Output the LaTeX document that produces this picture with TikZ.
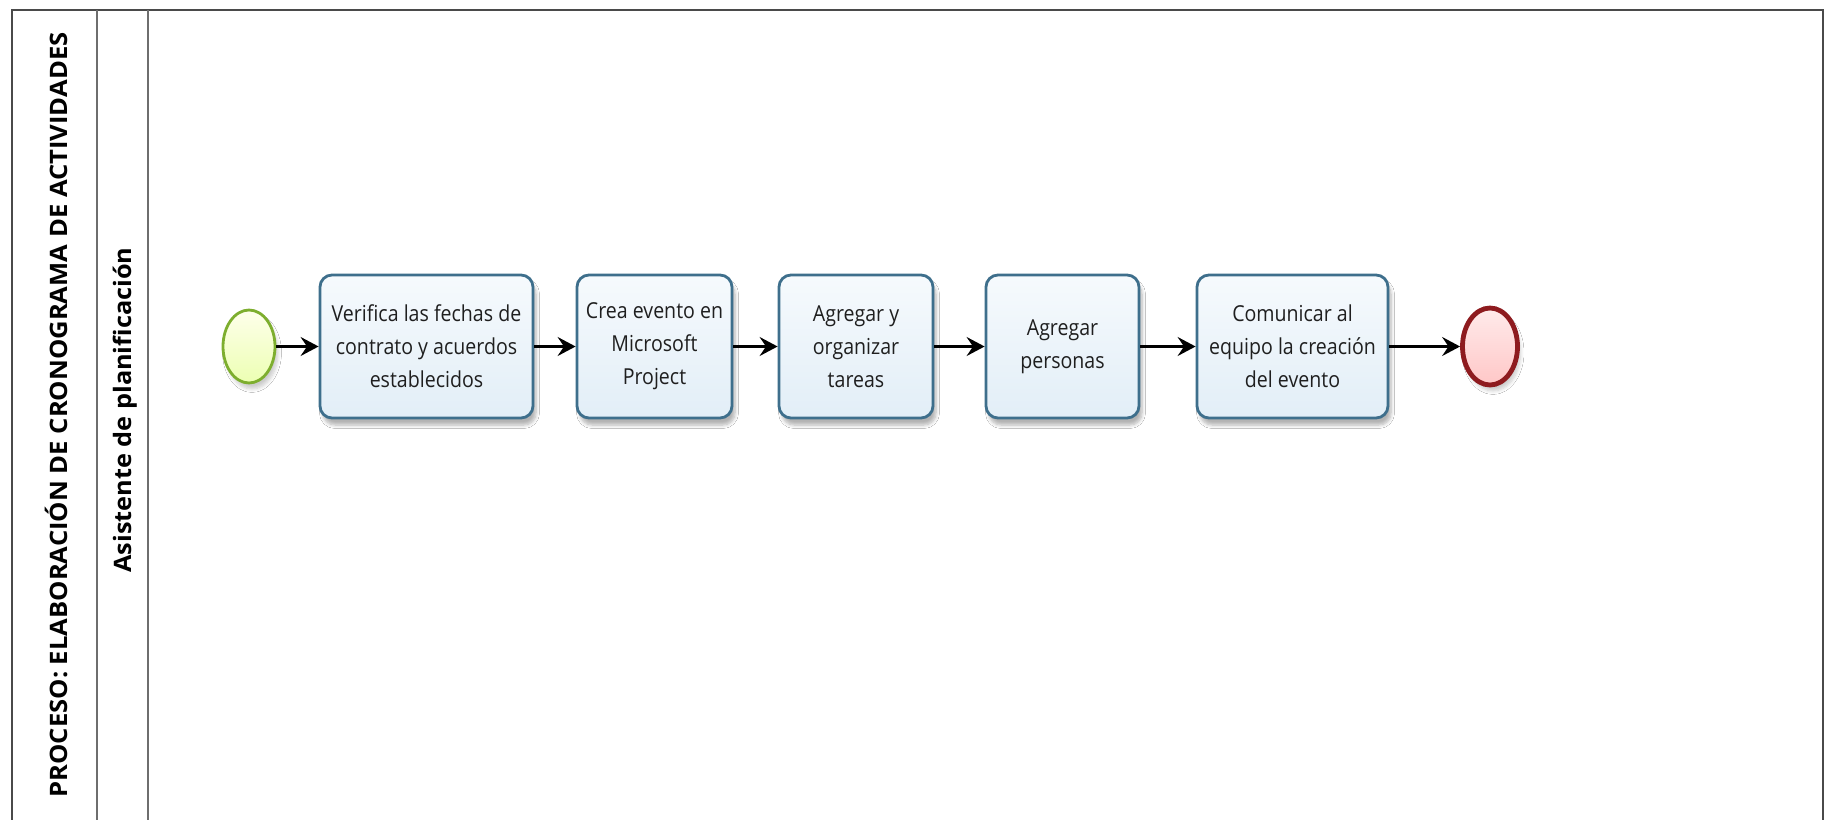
\documentclass[tikz,border=0pt]{standalone}
\usepackage{fontspec}
\usepackage{graphicx}
\usetikzlibrary{arrows.meta,shapes.geometric,shadows.blur}
\newfontfamily\taskfont{Open Sans}[FakeStretch=0.89]
\newfontfamily\headfont{Open Sans}

\definecolor{framegray}{HTML}{4A4A4A}
\definecolor{sepgray}{HTML}{6E6E6E}
\definecolor{taskborder}{HTML}{3E6F8C}
\definecolor{tasktop}{HTML}{F6FAFD}
\definecolor{taskbottom}{HTML}{E2EEF7}
\definecolor{startborder}{HTML}{7DAE2E}
\definecolor{endborder}{HTML}{8E1B1F}

\tikzset{
  frameline/.style={draw=framegray, line width=1pt},
  sepline/.style={draw=sepgray, line width=0.8pt},
  task/.style={draw=taskborder, line width=1.4pt, rounded corners=6pt,
    top color=tasktop, bottom color=taskbottom,
    minimum height=71.5pt, inner sep=2pt, align=center,
    font=\taskfont\fontsize{11}{16.5}\selectfont, text=black!88,
    blur shadow={shadow xshift=1.5pt, shadow yshift=-3.5pt, shadow blur steps=6, shadow opacity=30}},
  startev/.style={ellipse, draw=startborder, line width=1.4pt,
    top color=green!4!yellow!8, bottom color=green!25!yellow!30,
    minimum width=26pt, minimum height=36.5pt, inner sep=0pt,
    blur shadow={shadow xshift=1.5pt, shadow yshift=-3pt, shadow blur steps=6, shadow opacity=20}},
  endev/.style={ellipse, draw=endborder, line width=2.4pt,
    top color=red!8, bottom color=red!22,
    minimum width=27.5pt, minimum height=38.5pt, inner sep=0pt,
    blur shadow={shadow xshift=1.5pt, shadow yshift=-3pt, shadow blur steps=6, shadow opacity=20}},
  flow/.style={draw=black, line width=1.1pt,
    -{Stealth[length=9pt, width=9.5pt, inset=3.2pt]}},
  headtext/.style={rotate=90, inner sep=0pt, text=black,
    font=\headfont\bfseries\fontsize{12}{14}\selectfont}
}

\begin{document}
\begin{tikzpicture}[x=0.5pt, y=-0.5pt]
  \useasboundingbox (0,0) rectangle (1825,819);
  \fill[white] (0,0) rectangle (1825,819);

  % pool frame, open at the bottom
  \draw[frameline] (12,830) -- (12,10) -- (1823,10) -- (1823,830);
  % pool header and lane header separators
  \draw[sepline] (97,10) -- (97,830);
  \draw[sepline] (148,10) -- (148,830);

  % pool and lane titles
  \node[headtext] (pool) at (56,415)
    {\resizebox{382.5pt}{\height}{PROCESO: ELABORACIÓN DE CRONOGRAMA DE ACTIVIDADES}};
  \node[headtext] (lane) at (125,410)
    {\resizebox{162.5pt}{\height}{Asistente de planificación}};

  % events and tasks
  \node[startev] (start) at (249,346.5) {};
  \node[task, minimum width=106.5pt] (t1) at (426.5,346.5)
    {Verifica las fechas de\\contrato y acuerdos\\establecidos};
  \node[task, minimum width=77.5pt] (t2) at (654.5,346.5)
    {Crea evento en\\Microsoft\\Project};
  \node[task, minimum width=77pt] (t3) at (856,346.5)
    {Agregar y\\organizar\\tareas};
  \node[task, minimum width=76.5pt] (t4) at (1062.5,346.5)
    {Agregar\\personas};
  \node[task, minimum width=95.5pt] (t5) at (1292.5,346.5)
    {Comunicar al\\equipo la creación\\del evento};
  \node[endev] (end) at (1490,346.5) {};

  % sequence flows
  \draw[flow] (start) -- (t1);
  \draw[flow] (t1) -- (t2);
  \draw[flow] (t2) -- (t3);
  \draw[flow] (t3) -- (t4);
  \draw[flow] (t4) -- (t5);
  \draw[flow] (t5) -- (end);
\end{tikzpicture}
\end{document}
